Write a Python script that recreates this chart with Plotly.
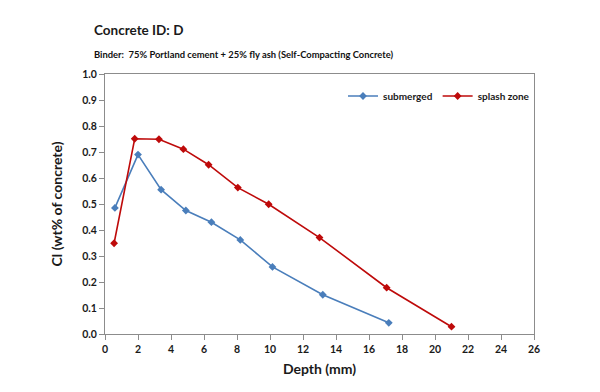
import plotly.graph_objects as go

sub_depth = [0.6, 2.0, 3.4, 4.9, 6.45, 8.2, 10.15, 13.2, 17.2]
sub_cl = [0.485, 0.69, 0.555, 0.475, 0.43, 0.362, 0.258, 0.151, 0.043]
spl_depth = [0.55, 1.8, 3.27, 4.75, 6.28, 8.05, 9.92, 13.0, 17.07, 21.0]
spl_cl = [0.349, 0.751, 0.749, 0.711, 0.651, 0.563, 0.499, 0.371, 0.178, 0.028]
x_ticks = list(range(0, 27, 2))
y_ticks = [i / 10 for i in range(0, 11)]

fnt = "Lato, 'Open Sans', sans-serif"

# page body has an 8px margin; figure is placed at (8, 8)
W, H = 592, 384
L, R, T, B = 97, 66, 66, 58

fig = go.Figure()
fig.add_trace(go.Scatter(x=sub_depth, y=sub_cl, mode="lines+markers", name="submerged",
                         line=dict(color="#4A7EBB", width=1.6),
                         marker=dict(symbol="diamond", size=6, color="#4A7EBB")))
fig.add_trace(go.Scatter(x=spl_depth, y=spl_cl, mode="lines+markers", name="splash zone",
                         line=dict(color="#BE0A0A", width=1.6),
                         marker=dict(symbol="diamond", size=6, color="#BE0A0A")))

pw, ph = W - L - R, H - T - B


def px(x):
    return (x - 8 - L) / pw


def py(y):
    return (H - B - (y - 8)) / ph


fig.update_layout(
    width=W, height=H,
    margin=dict(l=L, r=R, t=T, b=B, autoexpand=False),
    paper_bgcolor="white", plot_bgcolor="white",
    font=dict(family=fnt, color="#1a1a1a"),
    showlegend=True,
    legend=dict(orientation="h", x=px(343), y=py(96), xanchor="left", yanchor="middle",
                font=dict(size=10, family=fnt, weight="bold"), bgcolor="rgba(0,0,0,0)",
                itemwidth=30, tracegroupgap=0),
    annotations=[
        dict(text="<b>Concrete ID: D</b>", x=px(92), y=py(30), xref="paper", yref="paper",
             xanchor="left", yanchor="middle", showarrow=False, font=dict(size=13.5, family=fnt)),
        dict(text="<b>Binder:  75% Portland cement + 25% fly ash (Self-Compacting Concrete)</b>",
             x=px(92), y=py(54), xref="paper", yref="paper", xanchor="left", yanchor="middle",
             showarrow=False, font=dict(size=9.4, family=fnt, color="#111111")),
    ],
)

fig.update_xaxes(range=[0, 26], tickvals=x_ticks, ticktext=[str(v) for v in x_ticks],
                 showgrid=False, zeroline=False, showline=True, linecolor="#8c8c8c", linewidth=1,
                 mirror=True, ticks="outside", ticklen=5, tickcolor="#8c8c8c",
                 tickfont=dict(size=10.5, family=fnt, weight="bold"),
                 title=dict(text="<b>Depth (mm)</b>", font=dict(size=14, family=fnt), standoff=10))
fig.update_yaxes(range=[0, 1.0], tickvals=y_ticks, ticktext=[f"{v:.1f}" for v in y_ticks],
                 showgrid=False, zeroline=False, showline=True, linecolor="#8c8c8c", linewidth=1,
                 mirror=True, ticks="outside", ticklen=5, tickcolor="#8c8c8c",
                 tickfont=dict(size=10.5, family=fnt, weight="bold"),
                 title=dict(text="<b>Cl (wt% of concrete)</b>", font=dict(size=14, family=fnt),
                            standoff=16))

fig.write_html("out.html")
